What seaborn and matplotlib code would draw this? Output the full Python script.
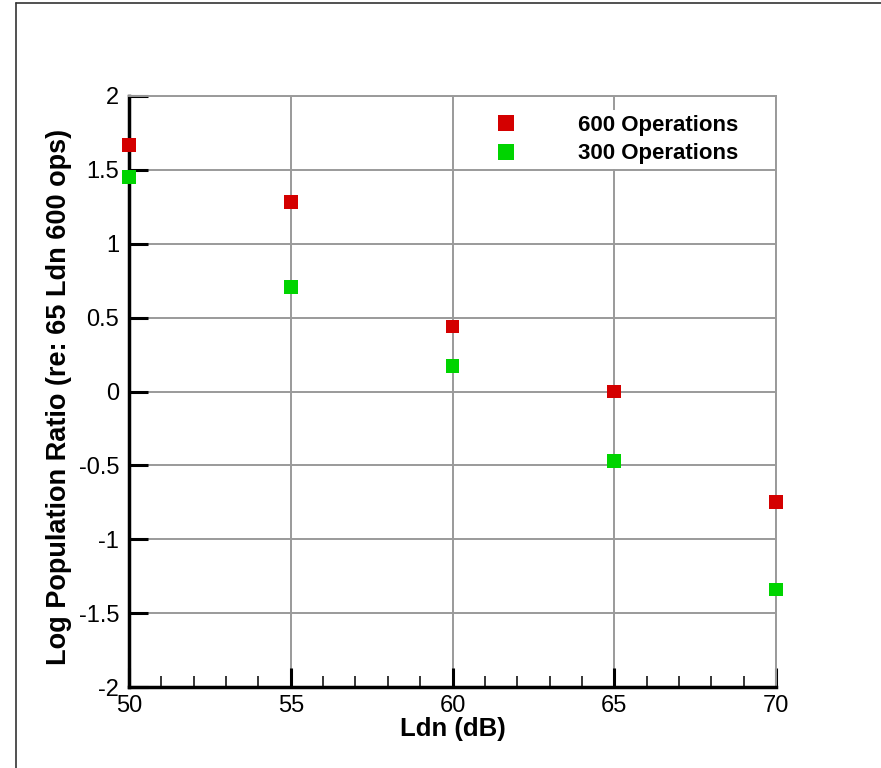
import numpy as np
import matplotlib
matplotlib.use("Agg")
import matplotlib.pyplot as plt
import pandas as pd
import seaborn as sns
from matplotlib.lines import Line2D
from matplotlib.ticker import MultipleLocator

# data
ldn = [50, 55, 60, 65, 70]
ratio_600 = [1.67, 1.28, 0.44, 0.00, -0.75]
ratio_300 = [1.45, 0.71, 0.17, -0.47, -1.34]
series_names = ["600 Operations", "300 Operations"]
series_colors = ["#d40000", "#00d400"]

df = pd.DataFrame({
    "Ldn": ldn * 2,
    "ratio": ratio_600 + ratio_300,
    "series": [series_names[0]] * len(ldn) + [series_names[1]] * len(ldn),
})

sns.set_style("white")
plt.rcParams['font.family'] = ['Liberation Sans', 'DejaVu Sans']
plt.rcParams['text.color'] = 'black'
plt.rcParams['axes.labelcolor'] = 'black'
plt.rcParams['xtick.color'] = 'black'
plt.rcParams['ytick.color'] = 'black'

fig = plt.figure(figsize=(8.81, 7.68), dpi=100)
ax = fig.add_axes([129 / 881, 81 / 768, 647 / 881, 591 / 768])

ax.grid(True, which="major", color="#9a9a9a", linewidth=1.4, zorder=0)
ax.set_axisbelow(True)

sns.scatterplot(data=df, x="Ldn", y="ratio", hue="series", hue_order=series_names,
                palette=series_colors, marker="s", s=100, linewidth=0,
                ax=ax, zorder=3, clip_on=False)

ax.set_xlim(50, 70)
ax.set_ylim(-2, 2)
ax.xaxis.set_minor_locator(MultipleLocator(1))
ax.set_xticks([50, 55, 60, 65, 70])
ax.set_xticklabels(["50", "55", "60", "65", "70"])
ax.set_yticks([-2, -1.5, -1, -0.5, 0, 0.5, 1, 1.5, 2])
ax.set_yticklabels(["-2", "-1.5", "-1", "-0.5", "0", "0.5", "1", "1.5", "2"])

ax.tick_params(which="major", direction="in", length=14, width=2.2,
               labelsize=17, color="black", labelcolor="black",
               bottom=True, left=True, top=False, right=False)
ax.tick_params(which="minor", direction="in", length=8, width=1.1,
               color="black", bottom=True, left=False, top=False, right=False)
ax.tick_params(axis="x", which="major", pad=6)
ax.tick_params(axis="y", which="major", pad=7)

for side in ["left", "bottom"]:
    ax.spines[side].set_linewidth(2.5)
    ax.spines[side].set_color("black")
for side in ["top", "right"]:
    ax.spines[side].set_linewidth(1.4)
    ax.spines[side].set_color("#9a9a9a")

ax.set_xlabel("Ldn (dB)", fontsize=18.5, fontweight="bold", labelpad=0)
ax.set_ylabel("Log Population Ratio (re: 65 Ldn 600 ops)", fontsize=19.5,
              fontweight="bold")
ax.yaxis.set_label_coords(-0.088, 0.491)

leg = ax.legend(loc="upper right", bbox_to_anchor=(0.965, 0.995), frameon=True,
                prop={"weight": "bold", "size": 16}, handletextpad=2.2,
                labelspacing=0.35, borderpad=0.2, markerscale=1.2)
leg.get_frame().set_facecolor("white")
leg.get_frame().set_edgecolor("none")
leg.get_frame().set_alpha(1)

# outer frame lines (top and left edge of the page border)
fig.add_artist(Line2D([16 / 881, 1], [1 - 3 / 768, 1 - 3 / 768], color="#333333", linewidth=1.2))
fig.add_artist(Line2D([16 / 881, 16 / 881], [0, 1 - 3 / 768], color="#333333", linewidth=1.2))

fig.savefig("out.png", dpi=100)
